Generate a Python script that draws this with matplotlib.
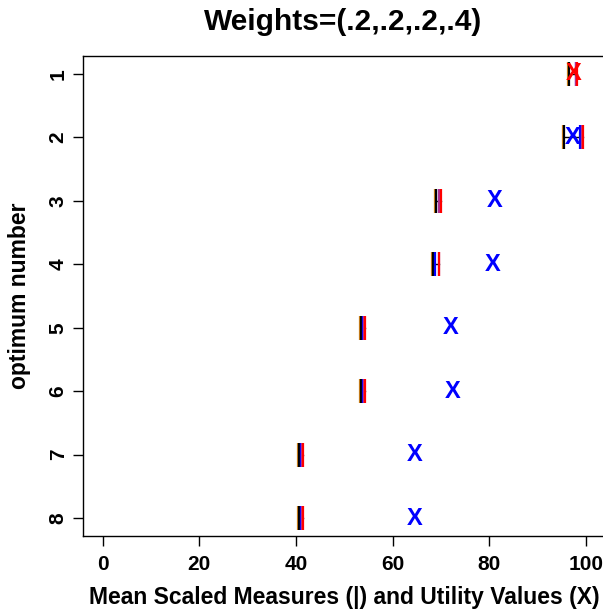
import matplotlib
matplotlib.use("Agg")
import matplotlib.pyplot as plt

plt.rcParams['font.family'] = ['Liberation Sans', 'DejaVu Sans']

optima = [1, 2, 3, 4, 5, 6, 7, 8]
measure_orange = [96.2, 95.2, 68.8, 68.1, 53.3, 53.3, 40.4, 40.4]
measure_black = [96.4, 95.4, 69.0, 68.3, 53.5, 53.5, 40.6, 40.6]
measure_blue = [97.9, 98.8, 69.5, 68.8, 53.9, 53.9, 41.1, 41.1]
measure_purple = [98.0, 99.2, 69.7, 69.5, 54.1, 54.1, 41.3, 41.3]
measure_red = [98.1, 99.4, 70.0, 69.7, 54.3, 54.3, 41.5, 41.5]
utility = [97.5, 97.3, 81.2, 80.8, 72.1, 72.5, 64.6, 64.6]
utility_colors = ['red', 'blue', 'blue', 'blue', 'blue', 'blue', 'blue', 'blue']
xticks = [0, 20, 40, 60, 80, 100]

fig = plt.figure(figsize=(6.03, 6.15), dpi=100)
ax_w = (605.3 - 83.2) / 603
ax = fig.add_axes([83.2 / 603, 79 / 615, ax_w, 480 / 615])

# horizontal range lines
for y, lo, hi in zip(optima, measure_black, measure_red):
    ax.plot([lo, hi], [y, y], color='black', lw=1.0, zorder=2)

series = [
    (measure_orange, '#D98A1E'),
    (measure_black, 'black'),
    (measure_blue, 'blue'),
    (measure_purple, '#B03090'),
    (measure_red, 'red'),
]
for vals, col in series:
    ax.plot(vals, optima, linestyle='none', marker='|', markersize=17,
            markeredgewidth=1.6, color=col, zorder=3)

for y, u, c in zip(optima, utility, utility_colors):
    ax.text(u, y, 'X', color=c, fontsize=17, fontweight='bold',
            ha='center', va='center', zorder=4)

ax.set_xlim(-4, 104)
ax.set_ylim(8.28, 0.72)
ax.set_xticks(xticks)
ax.set_xticklabels([str(v) for v in xticks], fontsize=15, fontweight='bold')
ax.set_yticks(optima)
ax.set_yticklabels([str(v) for v in optima], fontsize=15, fontweight='bold')
ax.tick_params(axis='both', direction='out', length=7, width=1)
ax.tick_params(axis='x', pad=7)
ax.tick_params(axis='y', pad=11)
for lbl in ax.get_yticklabels():
    lbl.set_rotation(90)
    lbl.set_horizontalalignment('center')
    lbl.set_verticalalignment('center')
for s in ax.spines.values():
    s.set_linewidth(1)

ax.set_xlabel('Mean Scaled Measures (|) and Utility Values (X)',
              fontsize=16.5, fontweight='bold', labelpad=8)
ax.set_ylabel('optimum number', fontsize=16.5, fontweight='bold')
ax.yaxis.set_label_coords(-(83.2 - 31) / 603 / ax_w, 0.5)
fig.text(343 / 603, 1 - 22 / 615, 'Weights=(.2,.2,.2,.4)', fontsize=21.5,
         fontweight='bold', ha='center', va='center')

fig.savefig('out.png', dpi=100)
